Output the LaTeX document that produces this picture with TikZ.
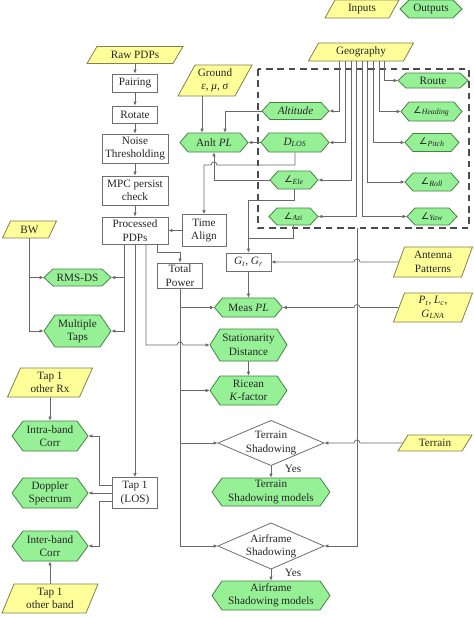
\documentclass[tikz,border=0pt]{standalone}
\usepackage{fontspec}
\setmainfont{Liberation Serif}
\newfontfamily\symfont{DejaVu Sans}
\usetikzlibrary{arrows.meta,calc}
\definecolor{yfill}{RGB}{255,255,153}
\definecolor{ydraw}{RGB}{128,128,80}
\definecolor{gfill}{RGB}{150,240,150}
\definecolor{gdraw}{RGB}{70,130,70}
\definecolor{bdraw}{RGB}{110,110,110}
\definecolor{lcol}{RGB}{105,105,105}
\tikzset{
 lbl/.style={inner sep=0pt, align=center, font=\fontsize{8.4}{10}\selectfont, text=black!85},
 hexfill/.style={fill=gfill, draw=gdraw, line width=0.6pt},
 parafill/.style={fill=yfill, draw=ydraw, line width=0.6pt},
 diafill/.style={fill=white, draw=bdraw, line width=0.6pt},
 boxnode/.style={lbl, draw=bdraw, fill=white, line width=0.6pt},
 conn/.style={draw=lcol, line width=0.55pt},
 arr/.style={conn, -{Latex[length=3pt,width=2.6pt]}},
 dashbox/.style={draw=black!70, line width=0.9pt, dash pattern=on 5pt off 3.5pt},
}
% name, x, y, width, height, tip depth, text
\newcommand{\hexnode}[7]{%
 \filldraw[hexfill] ({#2-#4/2},#3) -- ({#2-#4/2+#6},{#3-#5/2}) -- ({#2+#4/2-#6},{#3-#5/2}) -- ({#2+#4/2},#3) -- ({#2+#4/2-#6},{#3+#5/2}) -- ({#2-#4/2+#6},{#3+#5/2}) -- cycle;
 \node[lbl, minimum width={#4*0.75pt}, minimum height={#5*0.75pt}] (#1) at (#2,#3) {#7};}
% name, x, y, mid width, height, slant, text
\newcommand{\paranode}[7]{%
 \filldraw[parafill] ({#2-#4/2-#6/2},{#3+#5/2}) -- ({#2+#4/2-#6/2},{#3+#5/2}) -- ({#2+#4/2+#6/2},{#3-#5/2}) -- ({#2-#4/2+#6/2},{#3-#5/2}) -- cycle;
 \node[lbl, minimum width={#4*0.75pt}, minimum height={#5*0.75pt}] (#1) at (#2,#3) {#7};}
% name, x, y, width, height, text
\newcommand{\dianode}[6]{%
 \filldraw[diafill] ({#2-#4/2},#3) -- (#2,{#3-#5/2}) -- ({#2+#4/2},#3) -- (#2,{#3+#5/2}) -- cycle;
 \node[lbl, minimum width={#4*0.75pt}, minimum height={#5*0.75pt}] (#1) at (#2,#3) {#6};}
\newcommand{\boxn}[6]{%
 \node[boxnode, minimum width={#4*0.75pt}, minimum height={#5*0.75pt}] (#1) at (#2,#3) {#6};}
\newcommand{\angsub}[1]{{\symfont\fontsize{7}{8}\selectfont ∠}\textsubscript{\textit{#1}}}
\begin{document}
\begin{tikzpicture}[x=0.75pt,y=-0.75pt]
\useasboundingbox (0,0) rectangle (474,618);
% dashed group
\draw[dashbox] (258,69) rectangle (469,228);
\coordinate (boxout) at (357,228);
% legend
\paranode{inputs}{362}{9}{64}{18}{10}{Inputs}
\hexnode{outputs}{431}{9}{62}{18}{9}{Outputs}
% inputs
\paranode{geo}{361}{52}{95}{18}{10}{Geography}
\paranode{raw}{135}{55}{86}{17}{10}{Raw PDPs}
\paranode{ground}{215}{80.5}{57}{31}{17}{Ground\\\textit{ε, μ, σ}}
\paranode{ant}{433}{262}{68}{30}{11}{Antenna\\Patterns}
\paranode{pt}{433}{307.5}{68}{29}{11}{\textit{P}\textsubscript{\textit{t}}, \textit{L}\textsubscript{\textit{c}},\\\textit{G}\textsubscript{\textit{LNA}}}
\paranode{terr}{435}{443}{64}{16}{10}{Terrain}
\paranode{bw}{29.5}{229.5}{46}{17}{8}{BW}
\paranode{orx}{50}{382.5}{72}{29}{13}{Tap 1\\other Rx}
\paranode{oband}{50}{598.5}{84}{29}{12}{Tap 1\\other band}
% boxes
\boxn{pair}{135}{83}{45}{18}{Pairing}
\boxn{rot}{135}{114.5}{45}{17}{Rotate}
\boxn{noise}{135}{148.5}{66}{29}{Noise\\Thresholding}
\boxn{mpc}{135}{190.5}{66}{29}{MPC persist\\check}
\boxn{proc}{135}{230.5}{66}{27}{Processed\\PDPs}
\boxn{ta}{204}{230.5}{44}{32}{Time\\Align}
\boxn{tp}{180}{275.5}{45}{25}{Total\\Power}
\boxn{g}{248.5}{262}{45}{18}{\textit{G}\textsubscript{\textit{t}}, \textit{G}\textsubscript{\textit{r}}}
\boxn{tap}{135}{493}{45}{31}{Tap 1\\(LOS)}
% outputs
\hexnode{anlt}{214}{142.5}{68}{19}{8}{Anlt \textit{PL}}
\hexnode{alt}{295.5}{111}{67}{17}{8}{\textit{Altitude}}
\hexnode{dlos}{295}{142.5}{68}{19}{8}{\textit{D}\textsubscript{\textit{LOS}}}
\hexnode{ele}{294}{180}{48}{18}{8}{\angsub{Ele}}
\hexnode{azi}{293.5}{216.5}{49}{17}{8}{\angsub{Azi}}
\hexnode{route}{433}{80.5}{70}{15}{8}{Route}
\hexnode{head}{431.5}{111.5}{61}{19}{8}{\angsub{Heading}}
\hexnode{pitch}{432}{142.5}{54}{18}{8}{\angsub{Pitch}}
\hexnode{roll}{432}{182}{54}{18}{8}{\angsub{Roll}}
\hexnode{yaw}{432}{216.5}{50}{17}{8}{\angsub{Yaw}}
\hexnode{meas}{248.5}{307.5}{68}{19}{8}{Meas \textit{PL}}
\hexnode{stat}{248.5}{345}{77}{32}{10}{Stationarity\\Distance}
\hexnode{ric}{248.5}{390.5}{77}{29}{10}{Ricean\\\textit{K}-factor}
\hexnode{tsm}{271}{492}{118}{28}{10}{Terrain\\Shadowing models}
\hexnode{asm}{271}{595.5}{118}{29}{10}{Airframe\\Shadowing models}
\hexnode{rms}{77.5}{277.5}{67}{17}{9}{RMS-DS}
\hexnode{mt}{77.5}{331}{67}{32}{11}{Multiple\\Taps}
\hexnode{intra}{50}{436}{76}{30}{11}{Intra-band\\Corr}
\hexnode{dop}{50}{493}{76}{30}{11}{Doppler\\Spectrum}
\hexnode{inter}{50}{546}{76}{30}{11}{Inter-band\\Corr}
% decisions
\dianode{ts}{271}{443}{106}{45}{Terrain\\Shadowing}
\dianode{as}{271}{546}{106}{46}{Airframe\\Shadowing}
\node[lbl] (yes1) at (293,469) {Yes};
\node[lbl] (yes2) at (293,573) {Yes};
% left column
\draw[arr] (raw.south) -- (pair.north);
\draw[arr] (pair.south) -- (rot.north);
\draw[arr] (rot.south) -- (noise.north);
\draw[arr] (noise.south) -- (mpc.north);
\draw[arr] (mpc.south) -- (proc.north);
\draw[arr] (ta.west) -- (proc.east);
\draw[arr] (proc.south -| 124,0) |- (rms.east);
\draw[arr] (proc.south -| 124,0) |- (mt.east);
\draw[arr] (bw.south) |- (rms.west);
\draw[arr] (bw.south) |- (mt.west);
\draw[arr] (proc.south) -- (tap.north);
\draw[arr] (proc.south -| 157,0) -- ++(0,8) -| (tp.north);
\draw[arr] (proc.south -| 146,0) |- ($(tp.south |- stat.west)+(-3,0)$) arc[start angle=180,end angle=360,radius=3] -- (stat.west);
% tap 1
\draw[arr] ($(tap.west)+(0,-8)$) -- ++(-13,0) |- (intra.east);
\draw[arr] (tap.west) -- (dop.east);
\draw[arr] ($(tap.west)+(0,8)$) -- ++(-13,0) |- (inter.east);
\draw[arr] (orx.south) -- (intra.north);
\draw[arr] (oband.north) -- (inter.south);
% total power trunk
\draw[arr] (tp.south) |- (as.west);
\draw[arr] (tp.south |- meas.west) -- (meas.west);
\draw[arr] (tp.south |- ric.west) -- (ric.west);
\draw[arr] (tp.south |- ts.west) -- (ts.west);
\draw[arr] (stat.south) -- (ric.north);
\draw[arr] (ts.south) -- (tsm.north);
\draw[arr] (as.south) -- (asm.north);
% ground / analytic PL
\draw[arr] (ground.south -| 202,0) -- (anlt.north -| 202,0);
\draw[arr] (alt.west) -| (anlt.north -| 225,0);
\draw[arr] (dlos.west) -- (anlt.east);
\draw[arr] (ele.west) -| (anlt.south);
\draw[arr] (dlos.south) |- ($(anlt.south |- 0,165)+(3,0)$) arc[start angle=0,end angle=-180,radius=3] -| (ta.north);
% gains
\draw[arr] (ele.south) -- ++(0,11) -| (g.north);
\draw[conn] (azi.south) |- (g.north |- 0,238);
\draw[arr] (g.south) -- (meas.north);
\draw[arr] (ant.west) -- ($(ant.west -| boxout)+(3,0)$) arc[start angle=0,end angle=-180,radius=3] -- (g.east);
\draw[arr] (pt.west) -- ($(pt.west -| boxout)+(3,0)$) arc[start angle=0,end angle=-180,radius=3] -- (meas.east);
\draw[arr] (terr.west) -- ($(terr.west -| boxout)+(3,0)$) arc[start angle=0,end angle=-180,radius=3] -- (ts.east);
\draw[arr] (boxout) |- (as.east);
% geography
\draw[arr] (geo.south -| 339,0) |- (alt.east);
\draw[arr] (geo.south -| 345,0) |- (dlos.east);
\draw[arr] (geo.south -| 351,0) |- (ele.east);
\draw[arr] (geo.south -| 356,0) |- (azi.east);
\draw[arr] (geo.south -| 362,0) |- (yaw.west);
\draw[arr] (geo.south -| 367,0) |- (roll.west);
\draw[arr] (geo.south -| 373,0) |- (pitch.west);
\draw[arr] (geo.south -| 379,0) |- (head.west);
\draw[arr] (geo.south -| 384,0) |- (route.west);
\end{tikzpicture}
\end{document}
